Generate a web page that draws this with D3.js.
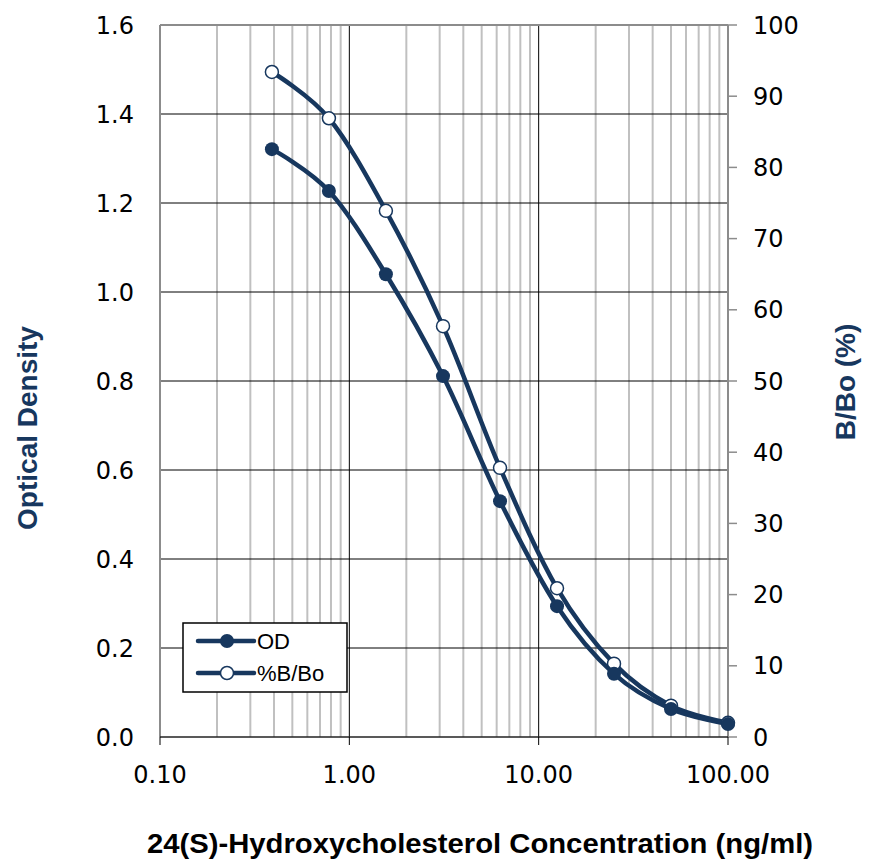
<!DOCTYPE html>
<html>
<head>
<meta charset="utf-8">
<script src="https://cdn.jsdelivr.net/npm/d3@7"></script>
<style>
  body { margin: 0; background: #fff; }
  svg text { font-family: "DejaVu Sans", Verdana, sans-serif; }
</style>
</head>
<body>
<div id="chart"></div>
<script>
// standard concentrations (ng/ml) and readings
const conc = [0.39, 0.78, 1.56, 3.125, 6.25, 12.5, 25, 50, 100];
const od = [1.321, 1.227, 1.040, 0.811, 0.530, 0.294, 0.142, 0.063, 0.029];
const bbo = [93.4, 86.9, 73.9, 57.7, 37.8, 20.9, 10.3, 4.4, 2.0];

const xTicks = [0.1, 1, 10, 100];
const yLeftTicks = [0, 0.2, 0.4, 0.6, 0.8, 1.0, 1.2, 1.4, 1.6];
const yRightTicks = [0, 10, 20, 30, 40, 50, 60, 70, 80, 90, 100];

const navy = "#17375e";
const W = 869, H = 863;
const margin = {top: 25, right: 141, bottom: 126, left: 160};

const svg = d3.select("#chart").append("svg")
    .attr("width", W).attr("height", H);

var x = d3.scaleLog().domain([0.1, 100]).range([margin.left, W - margin.right]);
var yL = d3.scaleLinear().domain([0, 1.6]).range([H - margin.bottom, margin.top]);
var yR = d3.scaleLinear().domain([0, 100]).range([H - margin.bottom, margin.top]);
const x0 = x.range()[0], x1 = x.range()[1], yb = yL.range()[0], yt = yL.range()[1];

// minor vertical grid
let minor = [];
[0.1, 1, 10].forEach(function (d) {
    for (let k = 2; k <= 9; k++) minor.push(d * k);
});
svg.append("g").selectAll("line").data(minor).join("line")
    .attr("x1", d => x(d)).attr("x2", d => x(d))
    .attr("y1", yt).attr("y2", yb)
    .attr("stroke", "#c0c0c0").attr("stroke-width", 2);

// major vertical grid
svg.append("g").selectAll("line").data([1, 10]).join("line")
    .attr("x1", d => x(d)).attr("x2", d => x(d))
    .attr("y1", yt).attr("y2", yb)
    .attr("stroke", "#000").attr("stroke-width", 1);

// horizontal grid
svg.append("g").selectAll("line").data(yLeftTicks.slice(1, -1)).join("line")
    .attr("x1", x0).attr("x2", x1)
    .attr("y1", d => yL(d)).attr("y2", d => yL(d))
    .attr("stroke", "#000").attr("stroke-width", 1);

// frame
svg.append("line").attr("x1", x0).attr("x2", x1).attr("y1", yt).attr("y2", yt)
    .attr("stroke", "#8c8c8c").attr("stroke-width", 2);
svg.append("line").attr("x1", x0).attr("x2", x0).attr("y1", yt).attr("y2", yb)
    .attr("stroke", "#8c8c8c").attr("stroke-width", 2);
svg.append("line").attr("x1", x1).attr("x2", x1).attr("y1", yt).attr("y2", yb)
    .attr("stroke", "#8c8c8c").attr("stroke-width", 2);

// right axis ticks + labels
svg.append("g").selectAll("line").data(yRightTicks).join("line")
    .attr("x1", x1).attr("x2", x1 + 9)
    .attr("y1", d => yR(d)).attr("y2", d => yR(d))
    .attr("stroke", "#8c8c8c").attr("stroke-width", 1.5);
svg.append("g").selectAll("text").data(yRightTicks).join("text")
    .attr("x", 753).attr("y", d => yR(d) + 8.5)
    .attr("font-size", 24).attr("fill", "#000")
    .text(d => d);

// left labels
svg.append("g").selectAll("text").data(yLeftTicks).join("text")
    .attr("x", 134).attr("y", d => yL(d) + 8.5)
    .attr("font-size", 24).attr("fill", "#000")
    .style("text-anchor", "end")
    .text(d => d.toFixed(1));

// bottom axis
svg.append("line").attr("x1", x0).attr("x2", x1).attr("y1", yb).attr("y2", yb)
    .attr("stroke", "#222").attr("stroke-width", 1.5);
svg.append("g").selectAll("line").data(xTicks).join("line")
    .attr("x1", d => x(d)).attr("x2", d => x(d))
    .attr("y1", yb).attr("y2", yb + 8)
    .attr("stroke", "#000").attr("stroke-width", 1);
svg.append("g").selectAll("text").data(xTicks).join("text")
    .attr("x", d => x(d)).attr("y", 783)
    .attr("font-size", 24).attr("fill", "#000")
    .style("text-anchor", "middle")
    .text(d => d.toFixed(2));

// series
let dataOD = conc.map((c, i) => ({x: c, y: od[i]}));
let dataB = conc.map((c, i) => ({x: c, y: bbo[i]}));

svg.append("path").datum(dataB)
    .attr("fill", "none").attr("stroke", navy).attr("stroke-width", 4.5)
    .attr("d", d3.line().curve(d3.curveCardinal.tension(0))
        .x(d => x(d.x)).y(d => yR(d.y)));
svg.append("g").selectAll("circle").data(dataB).join("circle")
    .attr("cx", d => x(d.x)).attr("cy", d => yR(d.y)).attr("r", 6.5)
    .attr("fill", "#fff").attr("stroke", navy).attr("stroke-width", 1.5);

svg.append("path").datum(dataOD)
    .attr("fill", "none").attr("stroke", navy).attr("stroke-width", 4.5)
    .attr("d", d3.line().curve(d3.curveCardinal.tension(0))
        .x(d => x(d.x)).y(d => yL(d.y)));
svg.append("g").selectAll("circle").data(dataOD).join("circle")
    .attr("cx", d => x(d.x)).attr("cy", d => yL(d.y)).attr("r", 7)
    .attr("fill", navy);

// legend
const legend = svg.append("g");
legend.append("rect").attr("x", 183).attr("y", 623).attr("width", 164).attr("height", 69)
    .attr("fill", "#fff").attr("stroke", "#000").attr("stroke-width", 1.5);
const legendItems = [{name: "OD", y: 641, filled: true}, {name: "%B/Bo", y: 673, filled: false}];
legendItems.forEach(function (it) {
    legend.append("line").attr("x1", 198).attr("x2", 254).attr("y1", it.y).attr("y2", it.y)
        .attr("stroke", navy).attr("stroke-width", 4.5).attr("stroke-linecap", "round");
    legend.append("circle").attr("cx", 227).attr("cy", it.y).attr("r", it.filled ? 7 : 6.5)
        .attr("fill", it.filled ? navy : "#fff")
        .attr("stroke", navy).attr("stroke-width", it.filled ? 0 : 1.5);
    legend.append("text").attr("x", 257).attr("y", it.y + 8)
        .style("font-family", "'Liberation Sans', Arial, sans-serif")
        .attr("font-size", 22).attr("fill", "#000")
        .text(it.name);
});

// axis titles
svg.append("text")
    .attr("transform", "translate(37,428)rotate(-90)")
    .style("font-family", "'Liberation Sans', Arial, sans-serif")
    .attr("font-weight", 700).attr("font-size", 28).attr("fill", navy)
    .style("text-anchor", "middle")
    .text("Optical Density");

svg.append("text")
    .attr("transform", "translate(855,382)rotate(-90)")
    .style("font-family", "'Liberation Sans', Arial, sans-serif")
    .attr("font-weight", 700).attr("font-size", 28).attr("fill", navy)
    .style("text-anchor", "middle")
    .text("B/Bo (%)");

svg.append("text")
    .attr("x", 147).attr("y", 853)
    .style("font-family", "'Liberation Sans Narrow', 'Liberation Sans', Arial, sans-serif")
    .attr("font-weight", 700).attr("font-size", 27).attr("fill", "#000")
    .attr("textLength", 666).attr("lengthAdjust", "spacingAndGlyphs")
    .text("24(S)-Hydroxycholesterol Concentration (ng/ml)");
</script>
</body>
</html>
